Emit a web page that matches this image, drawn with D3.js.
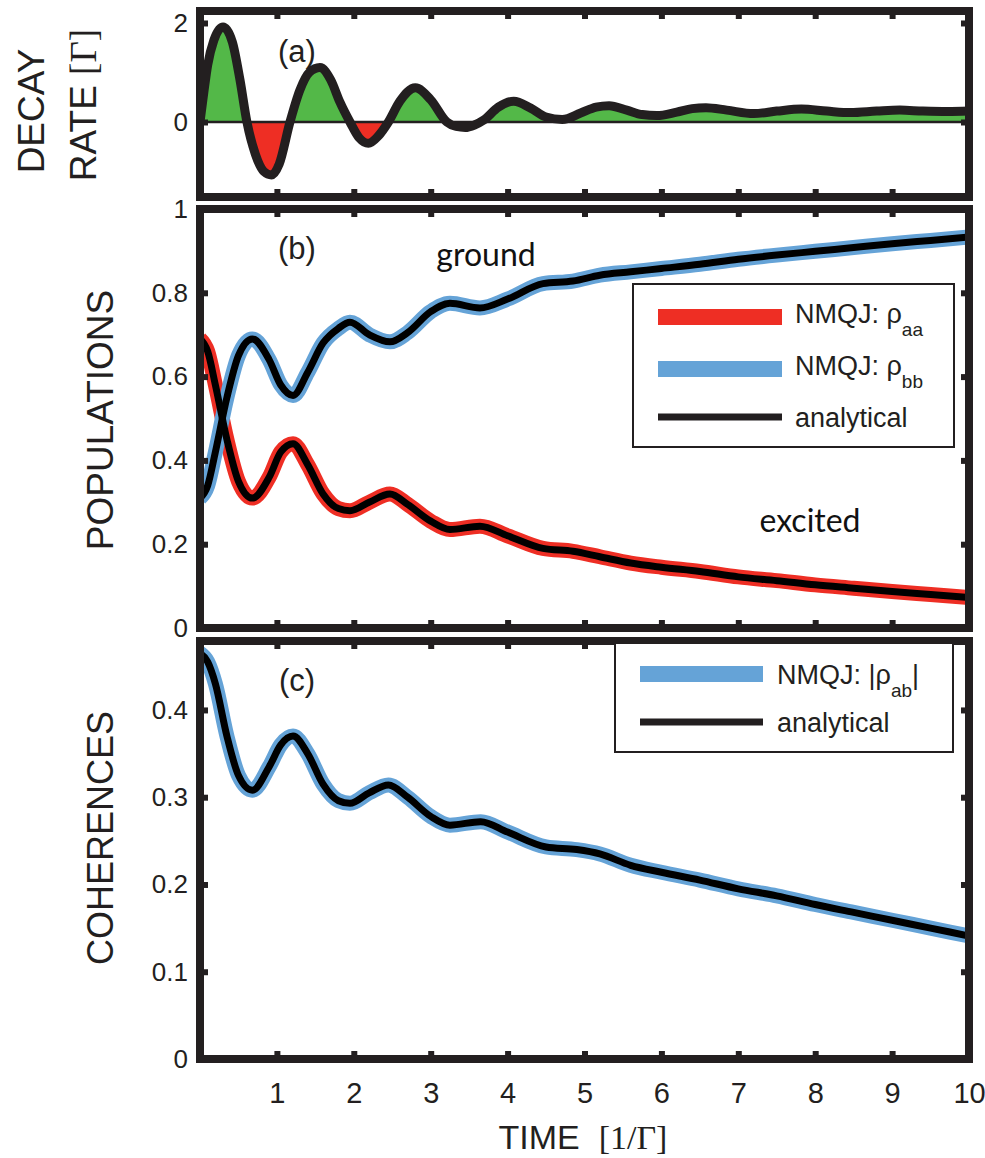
<!DOCTYPE html>
<html><head><meta charset="utf-8">
<script src="https://cdn.jsdelivr.net/npm/d3@7"></script>
<style>
body{margin:0;background:#fff;}
svg{display:block;font-family:"Liberation Sans",Arial,Helvetica,sans-serif;}
</style></head><body>
<script>
// ---------------- data ----------------
const timeTickValues = [1,2,3,4,5,6,7,8,9];
const timeTickLabels = [1,2,3,4,5,6,7,8,9,10];
const decayTicks = [0,2];
const popTicks = [0,0.2,0.4,0.6,0.8,1];
const cohTicks = [0,0.1,0.2,0.3,0.4];

// (a) decay rate
const decayTime = [0,0.05,0.1,0.18,0.30,0.42,0.52,0.61,0.72,0.83,0.93,1.03,1.17,1.30,1.42,1.56,1.70,1.82,1.95,2.07,2.19,2.32,2.45,2.60,2.80,3.00,3.21,3.33,3.45,3.57,3.69,3.88,4.08,4.30,4.50,4.71,4.95,5.15,5.32,5.55,5.75,5.94,6.20,6.40,6.58,6.85,7.20,7.50,7.82,8.15,8.46,8.80,9.10,9.40,9.72,10];
const decayRate = [0,0.6,1.15,1.65,1.92,1.62,0.85,0.0,-0.65,-1.0,-1.07,-0.85,0.0,0.65,1.0,1.10,0.85,0.4,0.0,-0.32,-0.43,-0.28,0.0,0.42,0.69,0.45,0.0,-0.09,-0.11,-0.06,0.04,0.30,0.42,0.28,0.10,0.05,0.18,0.30,0.33,0.24,0.15,0.13,0.20,0.27,0.29,0.24,0.17,0.22,0.26,0.22,0.19,0.22,0.24,0.22,0.21,0.22];

// (b) populations
const popTime = [0,0.1,0.2,0.35,0.5,0.68,0.9,1.05,1.21,1.4,1.6,1.8,1.95,2.2,2.47,2.7,3.0,3.25,3.64,4.0,4.46,4.85,5.2,5.6,6.0,6.5,7.0,7.5,8.0,8.5,9.0,9.5,10];
const excited = [0.69,0.66,0.58,0.45,0.35,0.31,0.36,0.42,0.44,0.39,0.32,0.285,0.28,0.30,0.32,0.295,0.255,0.235,0.243,0.22,0.19,0.183,0.17,0.155,0.145,0.135,0.122,0.113,0.103,0.095,0.087,0.08,0.073];
const ground  = [0.31,0.34,0.42,0.55,0.65,0.69,0.64,0.58,0.555,0.61,0.68,0.715,0.73,0.70,0.683,0.705,0.755,0.775,0.764,0.785,0.822,0.828,0.842,0.85,0.858,0.868,0.88,0.89,0.899,0.908,0.917,0.925,0.933];

// (c) coherences
const cohTime = [0,0.1,0.2,0.35,0.5,0.68,0.9,1.05,1.21,1.4,1.6,1.8,1.95,2.2,2.45,2.7,3.0,3.25,3.65,4.0,4.5,4.9,5.2,5.6,6.0,6.5,7.0,7.5,8.0,8.5,9.0,9.5,10];
const coherence = [0.465,0.455,0.43,0.37,0.325,0.308,0.335,0.36,0.37,0.35,0.315,0.296,0.293,0.305,0.314,0.30,0.278,0.268,0.272,0.26,0.243,0.24,0.235,0.222,0.214,0.205,0.195,0.187,0.177,0.168,0.159,0.15,0.141];

// ---------------- drawing ----------------
const W = 985, H = 1158;
const INK = "#231f20", RED = "#ee2e24", BLUE = "#65a3d7", GREEN = "#53b848";
const svg = d3.select("body").append("svg").attr("width", W).attr("height", H);
const x = d3.scaleLinear().domain([0,10]).range([200,969]);
const X0 = 200, X1 = 969;

const panels = {
  a: {top: 11,  bottom: 197,  y: d3.scaleLinear().domain([-1.515, 2.242]).range([197, 11]), ticks: decayTicks},
  b: {top: 209, bottom: 628,  y: d3.scaleLinear().domain([0, 1]).range([628, 209]), ticks: popTicks},
  c: {top: 641, bottom: 1059, y: d3.scaleLinear().domain([0, 0.479]).range([1059, 641]), ticks: cohTicks}
};

function clipFor(id, y0, y1) {
  svg.append("clipPath").attr("id", id).append("rect")
    .attr("x", X0).attr("y", y0).attr("width", X1 - X0).attr("height", y1 - y0);
  return "url(#" + id + ")";
}

function drawFrame(p, showX) {
  const g = svg.append("g");
  g.append("rect").attr("x", X0).attr("y", p.top).attr("width", X1 - X0).attr("height", p.bottom - p.top)
    .attr("fill", "none").attr("stroke", INK).attr("stroke-width", 8);
  const styleAxis = sel => {
    sel.select(".domain").remove();
    sel.selectAll(".tick line").attr("stroke", INK).attr("stroke-width", 6);
  };
  g.append("g").attr("transform", `translate(0,${p.bottom})`)
    .call(d3.axisBottom(x).tickValues(timeTickValues).tickSize(-8).tickFormat("")).call(styleAxis);
  g.append("g").attr("transform", `translate(0,${p.top})`)
    .call(d3.axisTop(x).tickValues(timeTickValues).tickSize(-8).tickFormat("")).call(styleAxis);
  g.append("g").attr("transform", `translate(${X1},0)`)
    .call(d3.axisRight(p.y).tickValues(p.ticks).tickSize(-8).tickFormat("")).call(styleAxis);
  const left = g.append("g").attr("transform", `translate(${X0},0)`)
    .call(d3.axisLeft(p.y).tickValues(p.ticks).tickSize(-8).tickPadding(12).tickFormat(d3.format("")))
    .call(styleAxis);
  left.selectAll("text").attr("font-size", 26).attr("fill", INK)
    .attr("font-family", '"Liberation Sans",Arial,sans-serif');
  if (showX) {
    const bx = svg.append("g").attr("transform", `translate(0,${p.bottom})`)
      .call(d3.axisBottom(x).tickValues(timeTickLabels).tickSize(0).tickPadding(23));
    bx.select(".domain").remove();
    bx.selectAll("text").attr("font-size", 29).attr("fill", INK)
      .attr("font-family", '"Liberation Sans",Arial,sans-serif')
      .attr("transform", "scale(0.92,1.08)")
      .attr("x", function(d){ return 0; });
    bx.selectAll(".tick").each(function(d){
      d3.select(this).select("text").attr("transform", null);
    });
  }
}

// ----- panel (a)
{
  const p = panels.a;
  const pts = decayTime.map((t, i) => ({t, v: decayRate[i]}));
  const y0 = p.y(0);
  const area = d3.area().x(d => x(d.t)).y0(y0).y1(d => p.y(d.v)).curve(d3.curveMonotoneX);
  svg.append("path").datum(pts).attr("d", area).attr("fill", GREEN).attr("clip-path", clipFor("clipAup", p.top, y0));
  svg.append("path").datum(pts).attr("d", area).attr("fill", RED).attr("clip-path", clipFor("clipAdn", y0, p.bottom));
  svg.append("line").attr("x1", X0).attr("x2", X1).attr("y1", y0).attr("y2", y0).attr("stroke", INK).attr("stroke-width", 2.5);
  const line = d3.line().x(d => x(d.t)).y(d => p.y(d.v)).curve(d3.curveMonotoneX);
  svg.append("path").datum(pts).attr("d", line).attr("fill", "none").attr("stroke", INK)
    .attr("stroke-width", 9).attr("stroke-linejoin", "round").attr("clip-path", clipFor("clipA", p.top, p.bottom));
  drawFrame(p, false);
}

// ----- panel (b)
{
  const p = panels.b;
  const clip = clipFor("clipB", p.top, p.bottom);
  const line = d3.line().x(d => x(d.t)).y(d => p.y(d.v)).curve(d3.curveMonotoneX);
  const exc = popTime.map((t, i) => ({t, v: excited[i]}));
  const gr = popTime.map((t, i) => ({t, v: ground[i]}));
  svg.append("path").datum(exc).attr("d", line).attr("fill", "none").attr("stroke", RED).attr("stroke-width", 15).attr("clip-path", clip);
  svg.append("path").datum(gr).attr("d", line).attr("fill", "none").attr("stroke", BLUE).attr("stroke-width", 15).attr("clip-path", clip);
  svg.append("path").datum(exc).attr("d", line).attr("fill", "none").attr("stroke", "#000").attr("stroke-width", 7).attr("clip-path", clip);
  svg.append("path").datum(gr).attr("d", line).attr("fill", "none").attr("stroke", "#000").attr("stroke-width", 7).attr("clip-path", clip);
  drawFrame(p, false);
}

// ----- panel (c)
{
  const p = panels.c;
  const clip = clipFor("clipC", p.top, p.bottom);
  const line = d3.line().x(d => x(d.t)).y(d => p.y(d.v)).curve(d3.curveMonotoneX);
  const coh = cohTime.map((t, i) => ({t, v: coherence[i]}));
  svg.append("path").datum(coh).attr("d", line).attr("fill", "none").attr("stroke", BLUE).attr("stroke-width", 15).attr("clip-path", clip);
  svg.append("path").datum(coh).attr("d", line).attr("fill", "none").attr("stroke", "#000").attr("stroke-width", 7).attr("clip-path", clip);
  drawFrame(p, true);
}

// ----- panel letters and annotations
const txt = (xx, yy, s, size, extra) => {
  const t = svg.append("text").attr("x", xx).attr("y", yy).attr("font-size", size).attr("fill", INK).text(s);
  if (extra) extra(t);
  return t;
};
txt(297, 62, "(a)", 31, t => t.attr("text-anchor", "middle"));
txt(297, 259, "(b)", 31, t => t.attr("text-anchor", "middle"));
txt(297, 691, "(c)", 31, t => t.attr("text-anchor", "middle"));
txt(486, 266, "ground", 32, t => t.attr("text-anchor", "middle").attr("font-family", "Lato, 'Open Sans', sans-serif").attr("fill", "#111"));
txt(810, 532, "excited", 32, t => t.attr("text-anchor", "middle").attr("font-family", "Lato, 'Open Sans', sans-serif").attr("fill", "#111"));

// ----- axis titles
function vtitle(cx, cy, parts, size) {
  const t = svg.append("text").attr("transform", `translate(${cx},${cy}) rotate(-90)`)
    .attr("text-anchor", "middle").attr("dominant-baseline", "central").attr("font-size", size).attr("fill", INK);
  parts.forEach(pt => {
    const s = t.append("tspan").text(pt.s);
    if (pt.serif) s.attr("font-family", '"Liberation Serif","Times New Roman",serif');
  });
}
vtitle(31, 111, [{s: "DECAY"}], 37);
vtitle(83, 105, [{s: "RATE "}, {s: "[Γ]", serif: true}], 37);
vtitle(100, 420, [{s: "POPULATIONS"}], 37);
vtitle(100, 838, [{s: "COHERENCES"}], 36);
{
  const t = svg.append("text").attr("x", 583).attr("y", 1149).attr("text-anchor", "middle")
    .attr("font-size", 34).attr("fill", INK);
  t.append("tspan").text("TIME\u00a0\u00a0");
  t.append("tspan").attr("font-family", '"Liberation Serif","Times New Roman",serif').text("[1/Γ]");
}

// ----- legends
function legend(box, items) {
  const g = svg.append("g");
  g.append("rect").attr("x", box.x).attr("y", box.y).attr("width", box.w).attr("height", box.h)
    .attr("fill", "#fff").attr("stroke", INK).attr("stroke-width", 2);
  items.forEach(it => {
    g.append("line").attr("x1", it.x1).attr("x2", it.x2).attr("y1", it.y).attr("y2", it.y)
      .attr("stroke", it.color).attr("stroke-width", it.w);
    const t = g.append("text").attr("x", it.tx).attr("y", it.ty).attr("font-size", 27).attr("fill", INK);
    t.append("tspan").text(it.label);
    if (it.sub) {
      t.append("tspan").attr("font-size", 19).attr("dy", 13).text(it.sub);
      if (it.after) t.append("tspan").attr("dy", -13).text(it.after);
    }
  });
}
legend({x: 633, y: 284, w: 321, h: 163}, [
  {x1: 658, x2: 782, y: 317, color: RED, w: 16, tx: 795, ty: 323, label: "NMQJ: ρ", sub: "aa"},
  {x1: 658, x2: 782, y: 369, color: BLUE, w: 16, tx: 795, ty: 375, label: "NMQJ: ρ", sub: "bb"},
  {x1: 658, x2: 782, y: 417, color: INK, w: 7, tx: 795, ty: 427, label: "analytical"}
]);
legend({x: 615, y: 643, w: 338, h: 109}, [
  {x1: 640, x2: 763, y: 674, color: BLUE, w: 16, tx: 777, ty: 684, label: "NMQJ: |ρ", sub: "ab", after: "|"},
  {x1: 640, x2: 763, y: 722, color: INK, w: 7, tx: 777, ty: 732, label: "analytical"}
]);
</script>
</body></html>
